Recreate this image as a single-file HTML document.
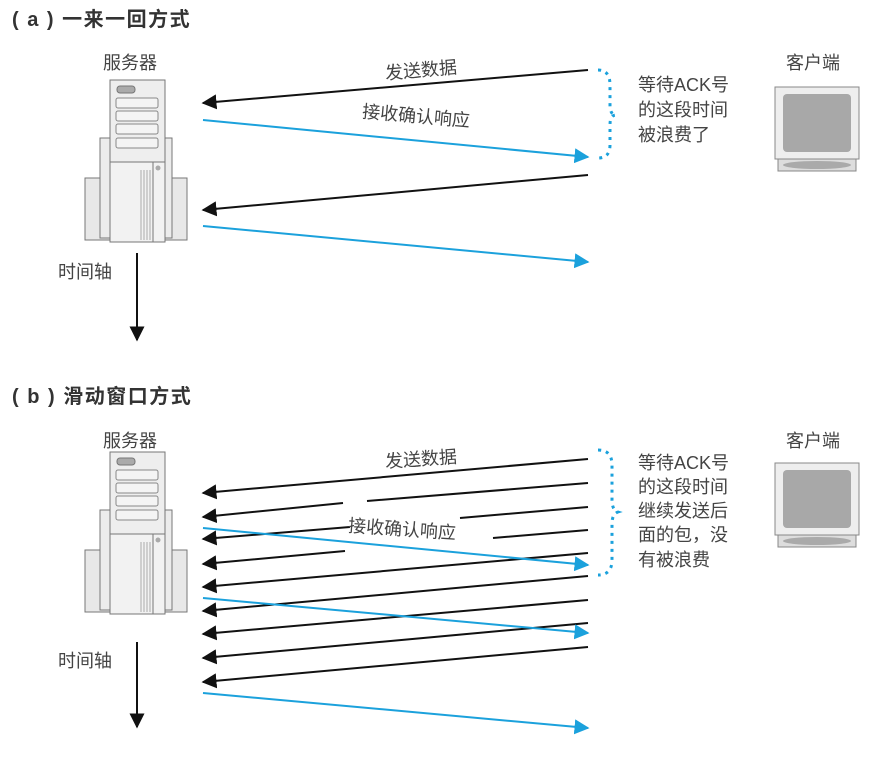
<!DOCTYPE html>
<html><head><meta charset="utf-8"><style>
html,body{margin:0;padding:0;background:#fff;}
svg{display:block;}
text{font-family:"Liberation Sans","Noto Sans CJK SC",sans-serif;fill:#444;}
.title{font-size:20px;font-weight:bold;letter-spacing:1.5px;fill:#333;}
</style></head><body>
<svg width="880" height="765" viewBox="0 0 880 765" xmlns="http://www.w3.org/2000/svg">
<defs>
<marker id="ak" viewBox="0 0 10 10" refX="9" refY="5" markerWidth="15" markerHeight="15" markerUnits="userSpaceOnUse" orient="auto"><path d="M0,0 L10,5 L0,10 z" fill="#111"/></marker>
<marker id="ab" viewBox="0 0 10 10" refX="9" refY="5" markerWidth="15" markerHeight="15" markerUnits="userSpaceOnUse" orient="auto"><path d="M0,0 L10,5 L0,10 z" fill="#1ba1dc"/></marker>
<g id="server">
  <rect x="85" y="178" width="102" height="62" fill="#e8e8e8" stroke="#777" stroke-width="1"/>
  <rect x="100" y="138" width="72" height="100" fill="#ececec" stroke="#777"/>
  <rect x="110" y="80" width="55" height="162" fill="#f2f2f2" stroke="#777"/>
  <rect x="110" y="80" width="55" height="82" fill="#eee" stroke="#777"/>
  <rect x="117" y="86" width="18" height="7" rx="3" fill="#aaa" stroke="#777"/>
  <rect x="116" y="98" width="42" height="10" rx="2" fill="#f4f4f4" stroke="#888"/>
  <rect x="116" y="111" width="42" height="10" rx="2" fill="#f4f4f4" stroke="#888"/>
  <rect x="116" y="124" width="42" height="10" rx="2" fill="#f4f4f4" stroke="#888"/>
  <rect x="116" y="138" width="42" height="10" rx="2" fill="#f4f4f4" stroke="#888"/>
  <line x1="153" y1="162" x2="153" y2="242" stroke="#777"/>
  <g stroke="#aaa"><line x1="141" y1="170" x2="141" y2="240"/><line x1="144" y1="170" x2="144" y2="240"/><line x1="147" y1="170" x2="147" y2="240"/><line x1="150" y1="170" x2="150" y2="240"/></g>
  <circle cx="158" cy="168" r="2.5" fill="#aaa"/>
</g>
<g id="client">
  <rect x="775" y="87" width="84" height="72" fill="#eee" stroke="#888"/>
  <rect x="783" y="94" width="68" height="58" rx="4" fill="#a8a8a8"/>
  <rect x="778" y="159" width="78" height="12" fill="#ddd" stroke="#888"/>
  <ellipse cx="817" cy="165" rx="34" ry="4" fill="#aaa"/>
</g>
</defs>

<!-- (a) -->
<text x="12" y="26" class="title">( a ) 一来一回方式</text>
<text x="103" y="69" font-size="18">服务器</text>
<use href="#server"/>
<text x="58" y="278" font-size="18">时间轴</text>
<line x1="137" y1="253" x2="137" y2="340" stroke="#111" stroke-width="2" marker-end="url(#ak)"/>
<text x="786" y="69" font-size="18">客户端</text>
<use href="#client"/>
<g stroke-width="2">
<line x1="588" y1="70" x2="203" y2="103" stroke="#111" marker-end="url(#ak)"/>
<line x1="203" y1="120" x2="588" y2="157" stroke="#1ba1dc" marker-end="url(#ab)"/>
<line x1="588" y1="175" x2="203" y2="210" stroke="#111" marker-end="url(#ak)"/>
<line x1="203" y1="226" x2="588" y2="262" stroke="#1ba1dc" marker-end="url(#ab)"/>
</g>
<text x="385" y="76" font-size="18" transform="rotate(-5 425 70)">发送数据</text>
<text x="362" y="123" font-size="18" transform="rotate(5 425 117)">接收确认响应</text>
<path d="M598,70 Q610,70 610,85 L610,105 Q610,115 616,115 Q610,115 610,125 L610,145 Q610,158 598,158" fill="none" stroke="#1ba1dc" stroke-width="3" stroke-dasharray="3,5"/>
<text font-size="18"><tspan x="638" y="91">等待ACK号</tspan><tspan x="638" y="116">的这段时间</tspan><tspan x="638" y="141">被浪费了</tspan></text>

<!-- (b) -->
<text x="12" y="403" class="title">( b ) 滑动窗口方式</text>
<text x="103" y="447" font-size="18">服务器</text>
<use href="#server" transform="translate(0,372)"/>
<text x="58" y="667" font-size="18">时间轴</text>
<line x1="137" y1="642" x2="137" y2="727" stroke="#111" stroke-width="2" marker-end="url(#ak)"/>
<text x="786" y="447" font-size="18">客户端</text>
<use href="#client" transform="translate(0,376)"/>
<g stroke-width="2" stroke="#111">
<line x1="588" y1="459" x2="203" y2="493" marker-end="url(#ak)"/>
<path d="M588,483 L367,501 M343,503 L203,517" fill="none" marker-end="url(#ak)"/>
<path d="M588,507 L460,518 M350,527 L203,539" fill="none" marker-end="url(#ak)"/>
<path d="M588,530 L493,538 M345,551 L203,564" fill="none" marker-end="url(#ak)"/>
<line x1="588" y1="553" x2="203" y2="587" marker-end="url(#ak)"/>
<line x1="588" y1="576" x2="203" y2="611" marker-end="url(#ak)"/>
<line x1="588" y1="600" x2="203" y2="634" marker-end="url(#ak)"/>
<line x1="588" y1="623" x2="203" y2="658" marker-end="url(#ak)"/>
<line x1="588" y1="647" x2="203" y2="682" marker-end="url(#ak)"/>
</g>
<g stroke-width="2" stroke="#1ba1dc">
<line x1="203" y1="528" x2="588" y2="565" marker-end="url(#ab)"/>
<line x1="203" y1="598" x2="588" y2="633" marker-end="url(#ab)"/>
<line x1="203" y1="693" x2="588" y2="728" marker-end="url(#ab)"/>
</g>
<text x="385" y="465" font-size="18" transform="rotate(-4 425 459)">发送数据</text>
<text x="348" y="536" font-size="18" transform="rotate(4 410 530)">接收确认响应</text>
<path d="M598,450 Q612,450 612,465 L612,500 Q612,510 618,512 Q612,514 612,524 L612,560 Q612,575 598,575" fill="none" stroke="#1ba1dc" stroke-width="3" stroke-dasharray="3,5"/>
<text font-size="18"><tspan x="638" y="469">等待ACK号</tspan><tspan x="638" y="493">的这段时间</tspan><tspan x="638" y="517">继续发送后</tspan><tspan x="638" y="541">面的包，没</tspan><tspan x="638" y="566">有被浪费</tspan></text>
</svg>
</body></html>
